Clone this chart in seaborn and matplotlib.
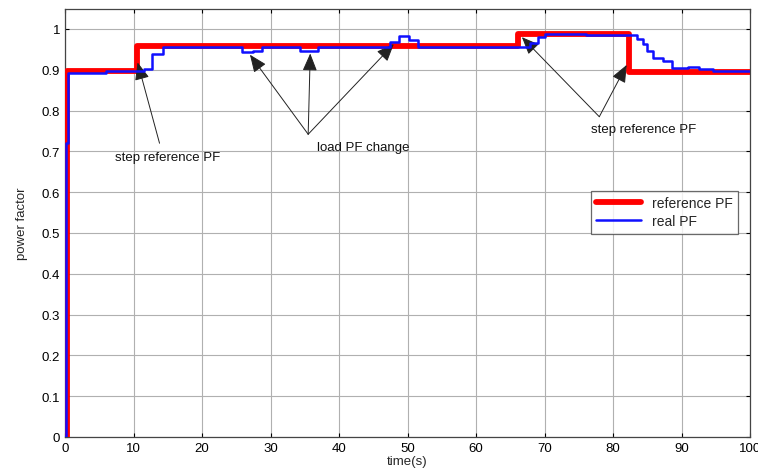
import matplotlib
matplotlib.use("Agg")
import matplotlib.pyplot as plt
import seaborn as sns
import pandas as pd

# reference PF (step signal)
t_ref = [0, 0.25, 10.5, 66.2, 82.3, 100]
pf_ref = [0.0, 0.896, 0.959, 0.987, 0.895, 0.895]

# measured (real) PF
t_real = [0, 0.2, 0.5, 6, 11.5, 12.7, 14.3, 25.9, 27.5, 28.7, 34.3, 37.0, 47.4, 48.8,
          50.2, 51.5, 67.9, 69.0, 70.0, 76.0, 83.5, 84.4, 85.0, 85.9, 87.3, 88.6, 91.0,
          92.5, 94.6, 100]
pf_real = [0.0, 0.72, 0.892, 0.897, 0.901, 0.939, 0.955, 0.943, 0.947, 0.955, 0.946, 0.955,
           0.969, 0.982, 0.973, 0.956, 0.965, 0.98, 0.988, 0.986, 0.975, 0.962, 0.947, 0.93,
           0.922, 0.905, 0.906, 0.902, 0.898, 0.898]

x_ticks = [0, 10, 20, 30, 40, 50, 60, 70, 80, 90, 100]
y_ticks = [0, 0.1, 0.2, 0.3, 0.4, 0.5, 0.6, 0.7, 0.8, 0.9, 1]
y_tick_labels = ["0", "0.1", "0.2", "0.3", "0.4", "0.5", "0.6", "0.7", "0.8", "0.9", "1"]

sns.set_style("white")
plt.rcParams["font.family"] = ["Liberation Sans", "DejaVu Sans"]

fig = plt.figure(figsize=(7.58, 4.77), dpi=100)
ax = fig.add_axes([65 / 758, (477 - 438) / 477, 685 / 758, 428 / 477])

df_ref = pd.DataFrame({"t": t_ref, "pf": pf_ref})
df_real = pd.DataFrame({"t": t_real, "pf": pf_real})

sns.lineplot(data=df_ref, x="t", y="pf", ax=ax, color="#ff0000", lw=4.2,
             drawstyle="steps-post", label="reference PF", zorder=3)
sns.lineplot(data=df_real, x="t", y="pf", ax=ax, color="#1010ff", lw=1.8,
             drawstyle="steps-post", label="real PF", zorder=4)

ax.set_xlim(0, 100)
ax.set_ylim(0, 1.049)
ax.set_xticks(x_ticks)
ax.set_yticks(y_ticks)
ax.set_yticklabels(y_tick_labels)
ax.grid(True, color="#b0b0b0", lw=0.8)
ax.tick_params(direction="in", length=3, labelsize=9.5, colors="black",
               top=True, right=True, bottom=True, left=True)
for s in ax.spines.values():
    s.set_color("#444444")
    s.set_linewidth(0.9)

ax.set_xlabel("time(s)", fontsize=9.5, labelpad=1)
ax.set_ylabel("power factor", fontsize=9.5, labelpad=10)

leg = ax.legend(loc="upper right", bbox_to_anchor=(0.993, 0.592), frameon=True,
                fancybox=False, edgecolor="#444444", fontsize=10, handlelength=3.2,
                borderpad=0.4, labelspacing=0.3)
leg.get_frame().set_linewidth(0.9)

arrow_kw = dict(arrowstyle="-|>,head_length=0.6,head_width=0.25", color="#222222",
                lw=0.7, mutation_scale=18, shrinkA=0, shrinkB=0)
txt_kw = dict(fontsize=9.5, color="#111111")

# left annotation
ax.text(15, 0.686, "step reference PF", ha="center", va="center", **txt_kw)
ax.annotate("", xy=(10.6, 0.918), xytext=(13.8, 0.72), arrowprops=arrow_kw)

# middle annotation
ax.text(43.5, 0.71, "load PF change", ha="center", va="center", **txt_kw)
for tip in [(27.0, 0.937), (35.8, 0.94), (48.0, 0.963)]:
    ax.annotate("", xy=tip, xytext=(35.5, 0.742), arrowprops=arrow_kw)

# right annotation
ax.text(84.5, 0.755, "step reference PF", ha="center", va="center", **txt_kw)
for tip in [(66.7, 0.98), (82.0, 0.912)]:
    ax.annotate("", xy=tip, xytext=(78.0, 0.785), arrowprops=arrow_kw)

fig.savefig("out.png", dpi=100)
